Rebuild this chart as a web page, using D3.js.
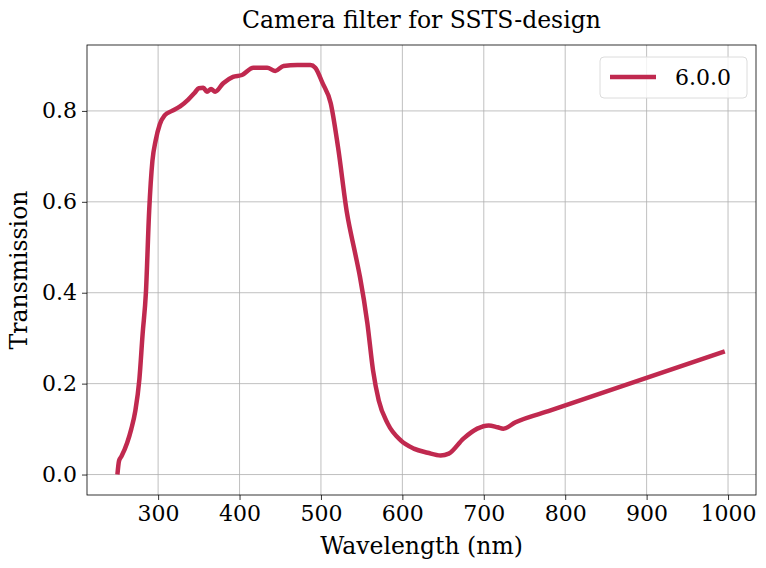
<!DOCTYPE html>
<html><head><meta charset="utf-8">
<script src="https://cdn.jsdelivr.net/npm/d3@7"></script>
<style>body{margin:0;background:#fff}</style>
</head><body><div id="chart"></div>
<script>
// wavelength (nm) and transmission
const wavelength = [250,252,255,262,267,272,277,281,285,289,293,297,302,308,317,327,337,345,350,355.5,360,365,370,380,392,403,417,434,444,454,471,487,493,502,512,521,532,542,548,557,564,571,582,598,614,631,647,657,675,692,706,717,724,739,782,996];
const transmission = [0,0.03,0.04,0.07,0.10,0.14,0.21,0.31,0.40,0.58,0.69,0.735,0.77,0.79,0.80,0.81,0.825,0.84,0.85,0.851,0.842,0.848,0.842,0.861,0.875,0.879,0.895,0.895,0.888,0.899,0.901,0.901,0.895,0.861,0.817,0.72,0.575,0.487,0.434,0.333,0.229,0.163,0.112,0.075,0.057,0.048,0.042,0.046,0.079,0.101,0.108,0.104,0.101,0.115,0.141,0.271];
const xTicks = [300,400,500,600,700,800,900,1000];
const yTicks = [0,0.2,0.4,0.6,0.8];
const seriesLabel = '6.0.0';

const W = 766, H = 568, M = {top: 45, right: 10, bottom: 73, left: 87};
const iW = W - M.left - M.right, iH = H - M.top - M.bottom;
const COL = '#c0294f', FONT = 'DejaVu Serif';

const svg = d3.select('#chart').append('svg').attr('width', W).attr('height', H)
  .style('font-family', FONT);
const g = svg.append('g').attr('transform', `translate(${M.left},${M.top})`);

const pts = wavelength.map((w, i) => ({w, t: transmission[i]}));
const x = d3.scaleLinear().domain([212.65, 1034.35]).range([0, iW]);
const y = d3.scaleLinear().domain([-0.045, 0.945]).range([iH, 0]);

// grid
xTicks.forEach(v => g.append('line').attr('x1', x(v)).attr('x2', x(v)).attr('y1', 0).attr('y2', iH)
  .attr('stroke', '#b0b0b0').attr('stroke-width', 0.8));
yTicks.forEach(v => g.append('line').attr('x1', 0).attr('x2', iW).attr('y1', y(v)).attr('y2', y(v))
  .attr('stroke', '#b0b0b0').attr('stroke-width', 0.8));

g.append('path').datum(pts)
  .attr('fill', 'none').attr('stroke', COL).attr('stroke-width', 4.5).attr('stroke-linejoin', 'round')
  .attr('d', d3.line().x(d => x(d.w)).y(d => y(d.t)).curve(d3.curveMonotoneX));

const styleAxis = ax => {
  ax.select('.domain').remove();
  ax.selectAll('line').attr('stroke', '#000').attr('stroke-width', 0.8);
  ax.selectAll('text').style('font-size', '22px').style('font-family', FONT).attr('fill', '#000');
};
g.append('g').attr('transform', `translate(0,${iH})`)
  .call(d3.axisBottom(x).tickValues(xTicks).tickFormat(d3.format('d')).tickSize(5).tickPadding(5)).call(styleAxis);
g.append('g')
  .call(d3.axisLeft(y).tickValues(yTicks).tickFormat(d3.format('.1f')).tickSize(5).tickPadding(5)).call(styleAxis);

g.append('rect').attr('width', iW).attr('height', iH).attr('fill', 'none').attr('stroke', '#000').attr('stroke-width', 0.8);

svg.append('text').attr('x', M.left + iW / 2).attr('y', 28).attr('text-anchor', 'middle')
  .style('font-size', '23.5px').text('Camera filter for SSTS-design');
svg.append('text').attr('x', M.left + iW / 2).attr('y', 554).attr('text-anchor', 'middle')
  .style('font-size', '23.5px').text('Wavelength (nm)');
svg.append('text').attr('transform', `translate(27,${M.top + iH / 2}) rotate(-90)`).attr('text-anchor', 'middle')
  .style('font-size', '23.5px').text('Transmission');

// legend
const lg = svg.append('g').attr('transform', 'translate(600,57)');
lg.append('rect').attr('width', 147).attr('height', 41).attr('rx', 4)
  .attr('fill', '#fff').attr('fill-opacity', 0.8).attr('stroke', '#dcdcdc');
lg.append('line').attr('x1', 10).attr('x2', 56).attr('y1', 20).attr('y2', 20)
  .attr('stroke', COL).attr('stroke-width', 4.5);
lg.append('text').attr('x', 75).attr('y', 28).style('font-size', '22px').text(seriesLabel);
</script></body></html>
